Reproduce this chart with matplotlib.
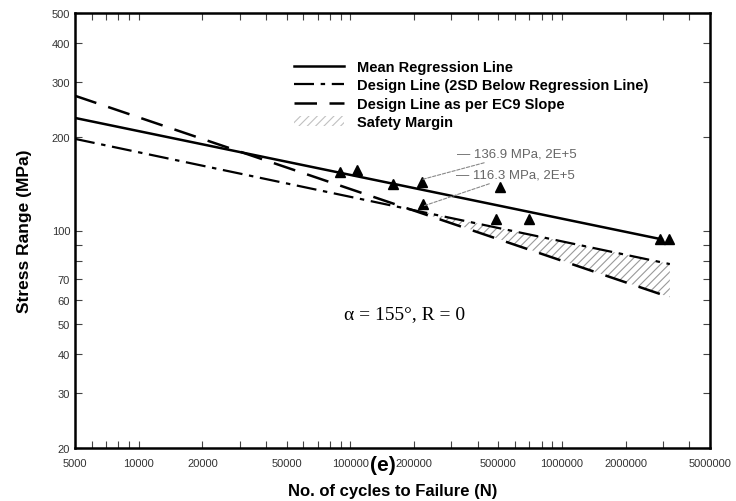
import numpy as np
import matplotlib
matplotlib.use('Agg')
import matplotlib.pyplot as plt
from matplotlib.lines import Line2D
from matplotlib.patches import Patch
from matplotlib.ticker import FixedLocator, NullFormatter

plt.rcParams['font.family'] = ['Liberation Sans', 'DejaVu Sans']
plt.rcParams['hatch.color'] = '#9a9a9a'
plt.rcParams['hatch.linewidth'] = 0.8

# test results (triangles)
test_N = [89000, 108000, 159000, 218000, 220000, 510000, 490000, 700000, 2900000, 3200000]
test_S = [154, 156, 141, 143, 122, 138, 109, 109, 94, 94]

# fitted lines (log-log straight lines, end points)
mean_N = [5000, 3000000]
mean_S = [230, 93.5]
design_N = [5000, 3230000]
design_S = [197, 78]
ec9_N = [5000, 3230000]
ec9_S = [271, 61]

# safety margin band between design line and EC9 line
margin_N = [200000, 3230000]
margin_upper = [116.3, 78]
margin_lower = [116.3, 61]

x_labels = [5000, 10000, 20000, 50000, 100000, 200000, 500000, 1000000, 2000000, 5000000]
y_labels = [20, 30, 40, 50, 60, 70, 100, 200, 300, 400, 500]
y_minor = [80, 90]

fig = plt.figure(figsize=(7.36, 5.02), dpi=100)
ax = fig.add_axes([75/736, 1 - 449/502, 635/736, 435/502])
ax.set_xscale('log')
ax.set_yscale('log')
ax.set_xlim(5000, 5000000)
ax.set_ylim(20, 500)

ax.fill_between(margin_N, margin_lower, margin_upper, facecolor='none',
                edgecolor='#9a9a9a', hatch='////', linewidth=0)
ax.plot(mean_N, mean_S, color='black', lw=1.8, solid_capstyle='butt')
ax.plot(design_N, design_S, color='black', lw=1.6, dashes=(9, 3, 2, 3))
ax.plot(ec9_N, ec9_S, color='black', lw=1.8, dashes=(9, 5))
ax.plot(test_N, test_S, linestyle='none', marker='^', color='black', markersize=7)

# annotations at 2E+5 (text position in figure pixels from top-left)
notes = [('— 136.9 MPa, 2E+5', (219000, 146), (457, 155)),
         ('— 116.3 MPa, 2E+5', (222000, 120), (456, 176))]
for txt, xy, (px, py) in notes:
    ax.annotate(txt, xy=xy, xytext=(px, 502 - py), textcoords='figure pixels',
                fontsize=9.5, color='#666666', va='center', ha='left',
                arrowprops=dict(arrowstyle='-', color='#888888', lw=0.8,
                                ls=(0, (3, 1.5)), shrinkA=0, shrinkB=0))

ax.text(181000, 54, 'α = 155°, R = 0', family=['Liberation Serif', 'DejaVu Serif'],
        fontsize=14, ha='center', va='center')

# ticks
ax.xaxis.set_major_locator(FixedLocator(x_labels))
ax.set_xticklabels([str(v) for v in x_labels])
ax.xaxis.set_minor_formatter(NullFormatter())
ax.yaxis.set_major_locator(FixedLocator(y_labels))
ax.set_yticklabels([str(v) for v in y_labels])
ax.yaxis.set_minor_locator(FixedLocator(y_minor))
ax.yaxis.set_minor_formatter(NullFormatter())
ax.tick_params(which='both', direction='in', top=True, right=True,
               length=5, width=0.8, color='#444444', labelsize=8, labelcolor='#333333')
ax.tick_params(axis='x', pad=7)
for sp in ax.spines.values():
    sp.set_linewidth(1.8)

ax.set_xlabel('No. of cycles to Failure (N)', fontsize=12, fontweight='bold', labelpad=11)
ax.set_ylabel('Stress Range (MPa)', fontsize=12.5, fontweight='bold', labelpad=14)

fig.text(383/736, 1 - 466/502, '(e)', fontsize=15, fontweight='bold',
         ha='center', va='center')

handles = [
    Line2D([], [], color='black', lw=1.8),
    Line2D([], [], color='black', lw=1.6, dashes=(9, 3, 2, 3)),
    Line2D([], [], color='black', lw=1.8, dashes=(9, 5)),
    Patch(facecolor='none', edgecolor='#c0c0c0', hatch='////', linewidth=0),
]
labels = ['Mean Regression Line', 'Design Line (2SD Below Regression Line)',
          'Design Line as per EC9 Slope', 'Safety Margin']
leg = ax.legend(handles, labels, loc='upper left', bbox_to_anchor=(294/736, 1 - 61/502),
                bbox_transform=fig.transFigure, frameon=False,
                handlelength=3.4, handletextpad=0.95, labelspacing=0.3, borderpad=0,
                borderaxespad=0, prop={'weight': 'bold', 'size': 10.5})

fig.savefig('out.png', dpi=100)
